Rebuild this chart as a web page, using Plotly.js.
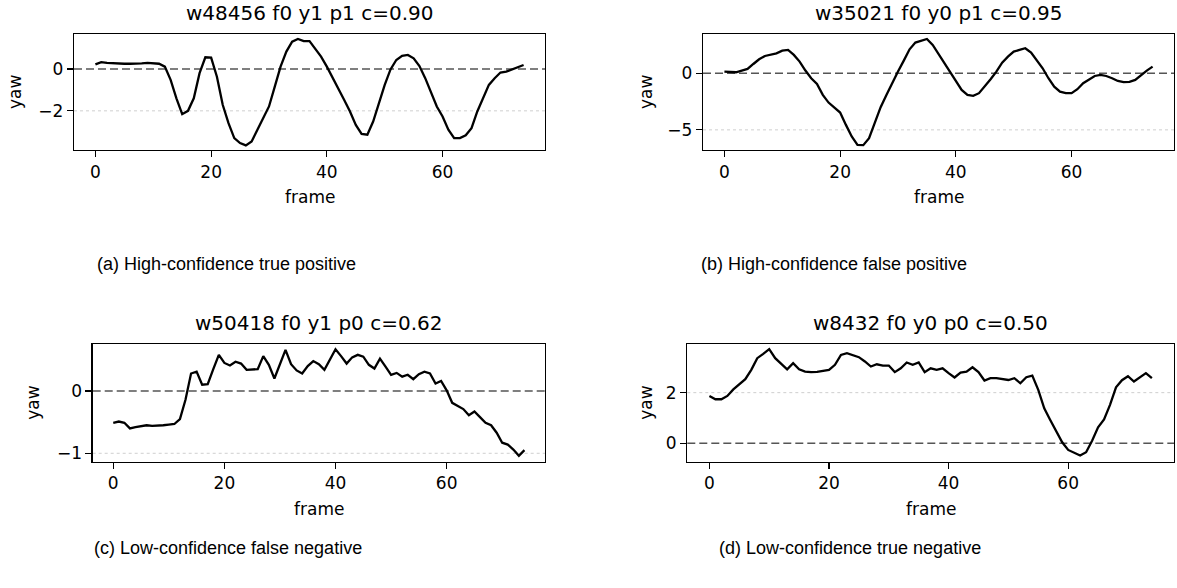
<!DOCTYPE html>
<html>
<head>
<meta charset="utf-8">
<script src="https://cdn.plot.ly/plotly-3.0.1.min.js"></script>
<style>
html,body{margin:0;padding:0;background:#fff;}
#chart{width:1177px;height:588px;}
</style>
</head>
<body>
<div id="chart"></div>
<script>
// ---- data ----
const frames = [0,1,2,3,4,5,6,7,8,9,10,11,12,13,14,15,16,17,18,19,20,21,22,23,24,25,26,27,28,29,30,31,32,33,34,35,36,37,38,39,40,41,42,43,44,45,46,47,48,49,50,51,52,53,54,55,56,57,58,59,60,61,62,63,64,65,66,67,68,69,70,71,72,73,74];

const yawA = [0.22,0.33,0.29,0.27,0.25,0.25,0.25,0.25,0.27,0.29,0.27,0.25,0.11,-0.52,-1.40,-2.16,-2.00,-1.40,-0.20,0.56,0.54,-0.37,-1.71,-2.59,-3.30,-3.54,-3.65,-3.46,-2.90,-2.35,-1.79,-0.84,0.11,0.83,1.30,1.43,1.33,1.33,0.98,0.59,0.11,-0.40,-0.92,-1.48,-2.03,-2.67,-3.10,-3.14,-2.51,-1.63,-0.76,-0.02,0.43,0.63,0.67,0.51,0.14,-0.44,-1.08,-1.79,-2.27,-2.90,-3.30,-3.30,-3.17,-2.83,-2.03,-1.40,-0.76,-0.44,-0.17,-0.13,-0.02,0.08,0.19];

const yawB = [0.15,0.09,0.09,0.24,0.38,0.82,1.24,1.53,1.62,1.76,2.00,2.06,1.62,1.03,0.24,-0.44,-0.94,-1.91,-2.59,-3.00,-3.47,-4.56,-5.59,-6.32,-6.35,-5.74,-4.41,-3.00,-1.91,-0.82,0.15,1.12,2.12,2.71,2.88,3.03,2.50,1.71,0.88,0.09,-0.59,-1.47,-1.91,-2.00,-1.76,-1.18,-0.53,0.15,0.94,1.47,1.91,2.06,2.21,1.82,1.18,0.44,-0.44,-1.18,-1.62,-1.76,-1.76,-1.41,-0.88,-0.53,-0.24,-0.15,-0.24,-0.44,-0.68,-0.79,-0.76,-0.59,-0.15,0.24,0.59];

const yawC = [-0.51,-0.49,-0.51,-0.60,-0.58,-0.57,-0.55,-0.56,-0.56,-0.55,-0.54,-0.53,-0.45,-0.14,0.28,0.31,0.10,0.11,0.35,0.58,0.45,0.41,0.47,0.44,0.34,0.34,0.35,0.56,0.42,0.20,0.44,0.66,0.43,0.33,0.28,0.40,0.48,0.43,0.34,0.50,0.67,0.56,0.44,0.54,0.58,0.55,0.42,0.36,0.52,0.39,0.26,0.29,0.23,0.26,0.19,0.27,0.31,0.28,0.12,0.16,0.01,-0.19,-0.24,-0.29,-0.39,-0.33,-0.42,-0.51,-0.55,-0.67,-0.83,-0.86,-0.94,-1.04,-0.95];

const yawD = [1.87,1.74,1.74,1.87,2.13,2.35,2.53,2.90,3.36,3.53,3.72,3.36,3.14,2.92,3.16,2.92,2.83,2.81,2.82,2.85,2.90,3.10,3.49,3.56,3.47,3.40,3.23,3.03,3.12,3.07,3.07,2.81,2.96,3.19,3.10,3.19,2.81,2.96,2.90,2.96,2.77,2.60,2.79,2.83,3.00,2.81,2.48,2.57,2.57,2.53,2.50,2.57,2.37,2.61,2.67,2.11,1.38,0.92,0.50,0.04,-0.26,-0.38,-0.48,-0.35,0.10,0.63,0.94,1.52,2.21,2.49,2.65,2.44,2.60,2.77,2.57];

const panelTitles = ["w48456 f0 y1 p1 c=0.90", "w35021 f0 y0 p1 c=0.95", "w50418 f0 y1 p0 c=0.62", "w8432 f0 y0 p0 c=0.50"];
const captions = ["(a) High-confidence true positive", "(b) High-confidence false positive", "(c) Low-confidence false negative", "(d) Low-confidence true negative"];
const xTicks = [0, 20, 40, 60];
const yTicksA = [-2, 0];
const yTicksB = [-5, 0];
const yTicksC = [-1, 0];
const yTicksD = [0, 2];
const refLevel = 0;
const xLabel = "frame";
const yLabel = "yaw";

// ---- layout geometry (pixels) ----
const W = 1177, H = 588;
const px = v => v / W;
const py = v => 1 - v / H;

const boxes = [
  {l: 74,    r: 545,  t: 34,  b: 150,   yr: [-3.87, 1.67], yt: yTicksA, ylab: 15,  tx: 309.5},
  {l: 703,   r: 1174, t: 34,  b: 150,   yr: [-6.78, 3.47], yt: yTicksB, ylab: 646, tx: 938.5},
  {l: 92.7,  r: 545,  t: 344, b: 461.7, yr: [-1.135, 0.754], yt: yTicksC, ylab: 33, tx: 318.9},
  {l: 687.3, r: 1174, t: 344, b: 461.7, yr: [-0.725, 3.92], yt: yTicksD, ylab: 646, tx: 930.7}
];
const series = [yawA, yawB, yawC, yawD];

const FONT = "DejaVu Sans, sans-serif";
const traces = [];
const layout = {
  width: W, height: H,
  margin: {l: 0, r: 0, t: 0, b: 0},
  paper_bgcolor: "#fff", plot_bgcolor: "#fff",
  showlegend: false,
  font: {family: FONT, size: 17, color: "#000"},
  shapes: [], annotations: []
};

boxes.forEach((bx, i) => {
  const n = i === 0 ? "" : String(i + 1);
  traces.push({
    x: frames, y: series[i], type: "scatter", mode: "lines",
    xaxis: "x" + n, yaxis: "y" + n,
    line: {color: "#000", width: 2.3}, hoverinfo: "skip"
  });
  layout["xaxis" + n] = {
    domain: [px(bx.l), px(bx.r)], anchor: "y" + n,
    range: [-3.7, 77.7], tickmode: "array", tickvals: xTicks,
    ticks: "outside", ticklen: 6, tickwidth: 1.2, tickcolor: "#000",
    showline: true, mirror: true, linecolor: "#000", linewidth: 1.3,
    showgrid: false, zeroline: false, tickfont: {family: FONT, size: 17, color: "#000"}
  };
  layout["yaxis" + n] = {
    domain: [py(bx.b), py(bx.t)], anchor: "x" + n,
    range: bx.yr, tickmode: "array", tickvals: bx.yt,
    ticks: "outside", ticklen: 6, tickwidth: 1.2, tickcolor: "#000",
    showline: true, mirror: true, linecolor: "#000", linewidth: 1.3,
    showgrid: false, zeroline: false, tickfont: {family: FONT, size: 17, color: "#000"}
  };
  // faint dotted grid at the non-reference y ticks
  bx.yt.filter(v => v !== refLevel).forEach(v => {
    layout.shapes.push({
      type: "line", xref: "x" + n + " domain", yref: "y" + n,
      x0: 0, x1: 1, y0: v, y1: v, layer: "below",
      line: {color: "#cfcfcf", width: 1, dash: "dot"}
    });
  });
  // dashed reference line
  layout.shapes.push({
    type: "line", xref: "x" + n + " domain", yref: "y" + n,
    x0: 0, x1: 1, y0: refLevel, y1: refLevel, layer: "below",
    line: {color: "#555", width: 1.5, dash: "8px,4px"}
  });
  // panel title
  layout.annotations.push({
    text: panelTitles[i], xref: "paper", yref: "paper",
    x: px(bx.tx), y: py(bx.t - 21), xanchor: "center", yanchor: "middle",
    showarrow: false, font: {family: FONT, size: 20, color: "#000"}
  });
  // x label
  layout.annotations.push({
    text: xLabel, xref: "paper", yref: "paper",
    x: px((bx.l + bx.r) / 2), y: py(bx.b + 47), xanchor: "center", yanchor: "middle",
    showarrow: false, font: {family: FONT, size: 17, color: "#000"}
  });
  // y label
  layout.annotations.push({
    text: yLabel, xref: "paper", yref: "paper", textangle: -90,
    x: px(bx.ylab), y: py((bx.t + bx.b) / 2), xanchor: "center", yanchor: "middle",
    showarrow: false, font: {family: FONT, size: 17, color: "#000"}
  });
});

// captions
const capPos = [[226, 264], [834, 264], [228, 548], [850, 548]];
captions.forEach((c, i) => {
  layout.annotations.push({
    text: c, xref: "paper", yref: "paper",
    x: px(capPos[i][0]), y: py(capPos[i][1]), xanchor: "center", yanchor: "middle",
    showarrow: false, font: {family: "Liberation Sans, Arial, sans-serif", size: 18, color: "#000"}
  });
});

Plotly.newPlot("chart", traces, layout, {staticPlot: true, displayModeBar: false});
</script>
</body>
</html>
